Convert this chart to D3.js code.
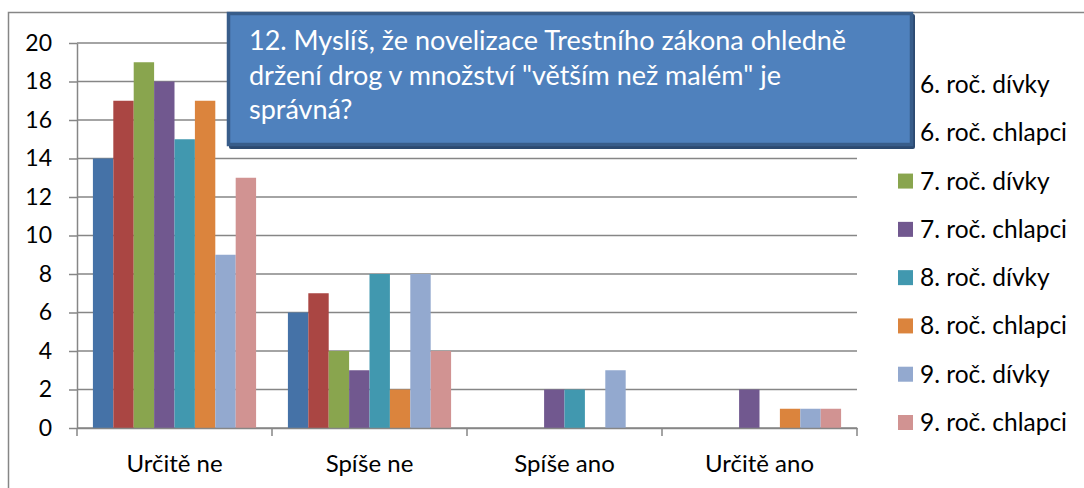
<!DOCTYPE html>
<html>
<head>
<meta charset="utf-8">
<script src="https://cdn.jsdelivr.net/npm/d3@7"></script>
<style>
  body { margin: 0; background: #fff; }
  svg text { font-family: Lato, "Open Sans", sans-serif; }
</style>
</head>
<body>
<div class="container"></div>
<script>
const categories = ["Určitě ne", "Spíše ne", "Spíše ano", "Určitě ano"];
const seriesNames = ["6. roč. dívky", "6. roč. chlapci", "7. roč. dívky", "7. roč. chlapci",
                     "8. roč. dívky", "8. roč. chlapci", "9. roč. dívky", "9. roč. chlapci"];
const colors = ["#4572A7", "#AA4643", "#89A54E", "#71588F", "#4198AF", "#DB843D", "#93A9CF", "#D19392"];

// one array per series, in category order
const g6divky   = [14, 6, 0, 0];
const g6chlapci = [17, 7, 0, 0];
const g7divky   = [19, 4, 0, 0];
const g7chlapci = [18, 3, 2, 2];
const g8divky   = [15, 8, 2, 0];
const g8chlapci = [17, 2, 0, 1];
const g9divky   = [9, 8, 3, 1];
const g9chlapci = [13, 4, 0, 1];
const seriesValues = [g6divky, g6chlapci, g7divky, g7chlapci, g8divky, g8chlapci, g9divky, g9chlapci];

const yTicks = [0, 2, 4, 6, 8, 10, 12, 14, 16, 18, 20];
const titleLines = ["12. Myslíš, že novelizace Trestního zákona ohledně",
                    "držení drog v množství \"větším než malém\" je",
                    "správná?"];

const WIDTH = 1084, HEIGHT = 488;
const PLOT_LEFT = 77, PLOT_RIGHT = 857, PLOT_TOP = 43, PLOT_BOTTOM = 428;
const AXIS_COLOR = "#868686";

var svg = d3.select('.container').append('svg')
    .attr('width', WIDTH)
    .attr('height', HEIGHT);

// outer chart frame (only top + left visible)
svg.append('rect')
    .attr('x', 8.5).attr('y', 12.5)
    .attr('width', 1200).attr('height', 600)
    .attr('fill', 'none')
    .attr('stroke', AXIS_COLOR)
    .attr('stroke-width', 1.5);

var xScale = d3.scaleBand()
    .domain(categories)
    .range([PLOT_LEFT, PLOT_RIGHT])
    .padding(0);

var xInner = d3.scaleBand()
    .domain(seriesNames)
    .range([0, xScale.bandwidth()])
    .paddingInner(0)
    .paddingOuter(0.78);

var yScale = d3.scaleLinear()
    .domain([0, 20])
    .range([PLOT_BOTTOM, PLOT_TOP]);

// gridlines
svg.append('g').selectAll('line')
    .data(yTicks)
    .enter().append('line')
    .attr('x1', PLOT_LEFT).attr('x2', PLOT_RIGHT)
    .attr('y1', function(d){ return yScale(d); })
    .attr('y2', function(d){ return yScale(d); })
    .attr('stroke', AXIS_COLOR)
    .attr('stroke-width', 1.5);

// bars
seriesNames.forEach(function(name, s) {
    svg.append('g').selectAll('rect')
        .data(seriesValues[s])
        .enter().append('rect')
        .attr('x', function(d, i){ return xScale(categories[i]) + xInner(name); })
        .attr('y', function(d){ return yScale(d); })
        .attr('width', xInner.bandwidth())
        .attr('height', function(d){ return PLOT_BOTTOM - yScale(d); })
        .attr('fill', colors[s]);
});

// y axis
var yAxis = svg.append('g')
    .attr('transform', 'translate(' + PLOT_LEFT + ',0)')
    .call(d3.axisLeft(yScale).tickValues(yTicks).tickSize(8).tickPadding(17).tickSizeOuter(0));
yAxis.selectAll('line, path').attr('stroke', AXIS_COLOR).attr('stroke-width', 1.5);
yAxis.selectAll('text')
    .attr('font-size', '23px')
    .attr('fill', '#000');

// x axis
var xAxis = svg.append('g')
    .attr('transform', 'translate(0,' + PLOT_BOTTOM + ')')
    .call(d3.axisBottom(xScale).tickSize(0).tickPadding(27).tickSizeOuter(0));
xAxis.select('path').attr('stroke', AXIS_COLOR).attr('stroke-width', 1.5);
xAxis.selectAll('text')
    .attr('font-size', '24px')
    .attr('fill', '#000');

// category boundary ticks
var bounds = categories.map(function(c){ return xScale(c); }).concat([PLOT_RIGHT]);
svg.append('g').selectAll('line')
    .data(bounds)
    .enter().append('line')
    .attr('x1', function(d){ return d; }).attr('x2', function(d){ return d; })
    .attr('y1', PLOT_BOTTOM).attr('y2', PLOT_BOTTOM + 8)
    .attr('stroke', AXIS_COLOR)
    .attr('stroke-width', 1.5);

// legend
var legend = svg.append('g').attr('transform', 'translate(898,0)');
var legendY = d3.scalePoint()
    .domain(seriesNames)
    .range([93, 431]);
var items = legend.selectAll('g')
    .data(seriesNames)
    .enter().append('g')
    .attr('transform', function(d){ return 'translate(0,' + legendY(d) + ')'; });
items.append('rect')
    .attr('x', 0).attr('y', -16)
    .attr('width', 15).attr('height', 15)
    .attr('fill', function(d, i){ return colors[i]; });
items.append('text')
    .attr('x', 22).attr('y', 0)
    .attr('font-size', '24.5px')
    .attr('fill', '#000')
    .text(function(d){ return d; });

// title box overlaying the chart
var title = svg.append('g');
title.append('rect')
    .attr('x', 229).attr('y', 14)
    .attr('width', 686).attr('height', 135)
    .attr('fill', '#2c4a70')
    .attr('rx', 2);
title.append('rect')
    .attr('x', 228.5).attr('y', 13.5)
    .attr('width', 683).attr('height', 131)
    .attr('fill', '#4F81BD')
    .attr('stroke', '#385D8A')
    .attr('stroke-width', 3.5);
title.selectAll('text')
    .data(titleLines)
    .enter().append('text')
    .attr('x', 249)
    .attr('y', function(d, i){ return 50 + i * 34.5; })
    .attr('font-size', '27px')
    .attr('fill', '#fff')
    .text(function(d){ return d; });
</script>
</body>
</html>
